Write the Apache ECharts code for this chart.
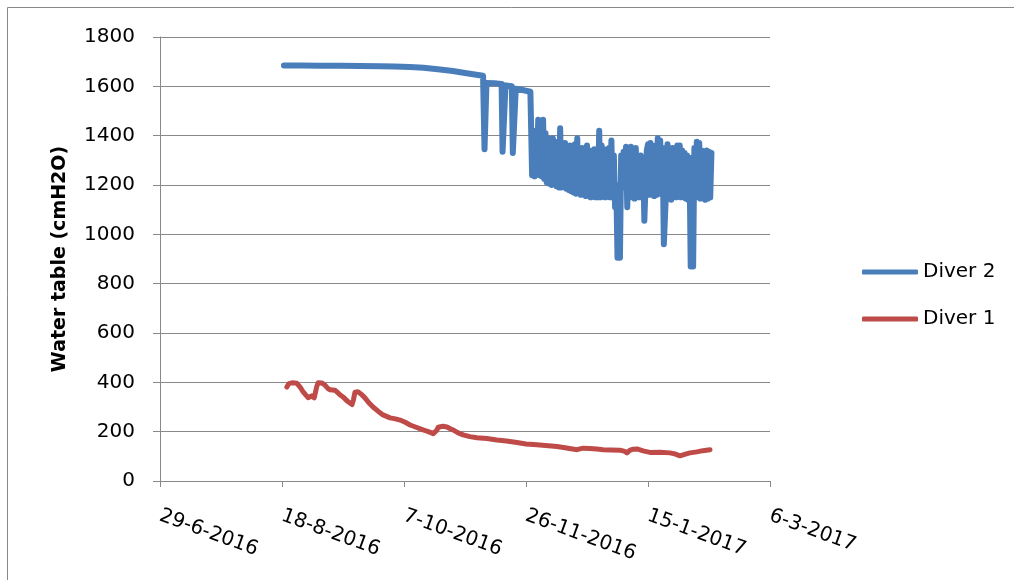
<!DOCTYPE html>
<html>
<head>
<meta charset="utf-8">
<script src="https://cdn.jsdelivr.net/npm/echarts@6/dist/echarts.min.js"></script>
<style>
html,body{margin:0;padding:0;background:#fff;}
#chart{width:1014px;height:580px;}
</style>
</head>
<body>
<div id="chart"></div>
<script>
// x values are days since 29-6-2016
const startDate = '29-6-2016';
const xTickLabels = ['29-6-2016', '18-8-2016', '7-10-2016', '26-11-2016', '15-1-2017', '6-3-2017'];
const yTitle = 'Water table (cmH2O)';
const seriesNames = ['Diver 2', 'Diver 1'];

const diver2Days = [
  50.8, 58, 65.6, 74, 82.0, 90.2, 96, 102.5, 108, 114.8, 120, 125.0, 129, 132.4,
  133.0, 133.4, 133.8, 137, 140.0, 140.4, 141.2, 141.6, 144.2, 144.6, 145.4, 145.8, 149, 151.8,
  152.5, 153.0, 153.5, 154.0, 154.5, 155.0, 155.5, 156.0, 156.5, 157.0, 157.5, 158.0, 158.5, 159.0, 159.5,
  160.0, 160.5, 161.0, 161.5, 162.0, 162.5, 163.0, 163.5, 164.0, 164.5, 165.0, 165.5, 166.0, 166.5,
  167.0, 167.5, 168.0, 168.5, 169.0, 169.5, 170.0, 170.5, 171.0, 171.5, 172.0, 172.5, 173.0, 173.5,
  174.0, 174.5, 175.0, 175.5, 176.0, 176.5, 177.0, 177.5, 178.0, 178.5, 179.0, 179.5, 180.0, 180.5,
  181.0, 181.5, 182.0, 182.5, 183.0, 183.5, 184.0, 184.5, 185.0, 185.5, 186.0, 186.5, 187.0, 187.5,
  188.0, 188.5, 189.0, 189.5, 190.0, 190.5, 191.0, 191.5, 192.0, 192.5, 193.0, 193.5, 194.0, 194.5,
  195.0, 195.5, 196.0, 196.5, 197.0, 197.5, 198.0, 198.5, 199.0, 199.5, 200.0, 200.5, 201.0, 201.5,
  202.0, 202.5, 203.0, 203.5, 204.0, 204.5, 205.0, 205.5, 206.0, 206.5, 207.0, 207.5, 208.0, 208.5,
  209.0, 209.5, 210.0, 210.5, 211.0, 211.5, 212.0, 212.5, 213.0, 213.5, 214.0, 214.5, 215.0, 215.5,
  216.0, 216.5, 217.0, 217.5, 218.0, 218.5, 219.0, 219.5, 220.0, 220.5, 221.0, 221.5, 222.0, 222.5,
  223.0, 223.5, 224.0, 224.5, 225.0, 225.5, 226.0
];
const diver2Values = [
  1684, 1684, 1683, 1683, 1682, 1681, 1680, 1678, 1675, 1668, 1662, 1654, 1648, 1643,
  1345, 1345, 1614, 1613, 1610, 1335, 1335, 1604, 1600, 1330, 1330, 1590, 1584, 1578,
  1240, 1380, 1235, 1420, 1245, 1465, 1240, 1430, 1235, 1465, 1225, 1410, 1210, 1390, 1205,
  1370, 1200, 1390, 1210, 1360, 1195, 1375, 1190, 1430, 1190, 1350, 1195, 1370, 1185,
  1340, 1180, 1360, 1175, 1350, 1170, 1365, 1165, 1390, 1170, 1345, 1160, 1350, 1165,
  1330, 1155, 1360, 1160, 1320, 1150, 1340, 1155, 1345, 1150, 1340, 1150, 1420, 1150,
  1360, 1155, 1345, 1150, 1335, 1160, 1350, 1150, 1380, 1150, 1320, 1110, 1200, 905,
  900, 905, 1320, 1190, 1335, 1200, 1355, 1110, 1350, 1180, 1355, 1150, 1340, 1145,
  1350, 1170, 1300, 1150, 1320, 1170, 1310, 1055, 1060, 1340, 1365, 1160, 1370, 1165,
  1340, 1155, 1360, 1160, 1390, 1165, 1380, 1200, 1350, 960, 960, 1200, 1365, 1150,
  1340, 1140, 1350, 1160, 1345, 1150, 1360, 1165, 1360, 1150, 1340, 1165, 1330, 1145,
  1320, 1140, 1310, 870, 862, 870, 1350, 1160, 1375, 1150, 1370, 1145, 1340, 1150,
  1310, 1140, 1340, 1145, 1335, 1150, 1330
];

const diver1Days = [
  52.0, 52.8, 54.1, 56.1, 57.5, 58.6, 59.8, 60.7, 61.5, 62.3, 63.2, 63.8, 64.3, 64.8, 66.4, 67.6,
  68.8, 69.7, 71.7, 73.5, 75.0, 77.0, 78.7, 79.3, 79.9, 81.1, 82.5, 84.0, 85.5, 87.3, 89.5, 91.4,
  94.3, 96.5, 98.4, 100.5, 102.5, 105, 107.8, 110, 112.0, 112.8, 113.4, 114.0, 116.0, 117.6, 119,
  120.1, 122, 124.2, 127, 129.9, 134, 138.1, 142, 146.3, 150, 154.5, 158, 162.7, 166, 170.9, 173.4,
  176.2, 179, 181.6, 185, 188.5, 190.5, 191.4, 192.5, 193.9, 195.5, 198, 200.8, 205, 209.0, 211,
  213.1, 215, 217.2, 220, 222.5, 225.4
];
const diver1Values = [
  381, 395, 398, 396, 380, 362, 348, 338, 342, 345, 337, 345, 385, 398, 397, 389,
  375, 370, 368, 352, 341, 322, 310, 330, 360, 362, 352, 337, 318, 300, 282, 268,
  256, 252, 247, 238, 227, 218, 207, 200, 192, 186, 205, 218, 222, 219, 212,
  207, 196, 187, 180, 175, 172, 166, 162, 156, 150, 147, 144, 140, 135, 127, 133,
  132, 130, 127, 126, 125, 120, 114, 124, 129, 130, 122, 116, 117, 114, 110,
  102, 108, 114, 118, 123, 127
];

const pairs = (xs, ys) => xs.map((x, i) => [x, ys[i]]);
const FONT = 'DejaVu Sans';
const GRAY = '#898989';

const chart = echarts.init(document.getElementById('chart'), null, {renderer: 'canvas'});
chart.setOption({
  animation: false,
  backgroundColor: '#fff',
  graphic: [{
    type: 'rect', silent: true, z: -10,
    shape: {x: 7.5, y: 7.5, width: 1100, height: 700},
    style: {fill: 'none', stroke: GRAY, lineWidth: 1}
  }],
  grid: {left: 160, right: 244, top: 37, bottom: 99, containLabel: false},
  legend: {
    orient: 'vertical', left: 857, top: 257, itemGap: 27,
    itemWidth: 56, itemHeight: 5, icon: 'roundRect',
    data: seriesNames,
    textStyle: {fontFamily: FONT, fontSize: 20, color: '#000'}
  },
  xAxis: {
    type: 'value', min: 0, max: 250, interval: 50,
    axisLine: {show: true, lineStyle: {color: GRAY, width: 1}},
    axisTick: {show: true, length: 6, lineStyle: {color: GRAY}},
    splitLine: {show: false},
    axisLabel: {
      rotate: -20, margin: 34, fontFamily: FONT, fontSize: 20, color: '#000',
      showMinLabel: true, showMaxLabel: true,
      formatter: v => xTickLabels[Math.round(v / 50)]
    }
  },
  yAxis: {
    type: 'value', min: 0, max: 1800, interval: 200,
    name: yTitle, nameLocation: 'middle', nameGap: 90, nameRotate: 90,
    nameTextStyle: {fontFamily: FONT, fontSize: 19, fontWeight: 'bold', color: '#000'},
    axisLine: {show: true, lineStyle: {color: GRAY, width: 1}},
    axisTick: {show: true, length: 7, lineStyle: {color: GRAY}},
    splitLine: {show: true, lineStyle: {color: GRAY, width: 1}},
    axisLabel: {margin: 25, fontFamily: FONT, fontSize: 20, color: '#000', formatter: v => String(v)}
  },
  series: [
    {
      name: seriesNames[0], type: 'line', symbol: 'none', showSymbol: false,
      data: pairs(diver2Days, diver2Values),
      color: '#4a7ebb',
      lineStyle: {color: '#4a7ebb', width: 6, join: 'round', cap: 'round'}
    },
    {
      name: seriesNames[1], type: 'line', symbol: 'none', showSymbol: false,
      data: pairs(diver1Days, diver1Values),
      color: '#be4b48',
      lineStyle: {color: '#be4b48', width: 5, join: 'round', cap: 'round'}
    }
  ]
});
</script>
</body>
</html>
